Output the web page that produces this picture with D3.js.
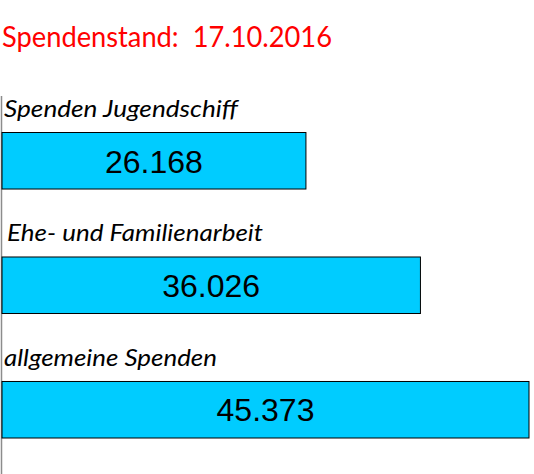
<!DOCTYPE html>
<html>
<head>
<meta charset="utf-8">
<script src="https://cdn.jsdelivr.net/npm/d3@7"></script>
<style>
  html, body { margin: 0; padding: 0; background: #fff; }
  svg { display: block; }
</style>
</head>
<body>
<svg id="chart" width="534" height="474"></svg>
<script>
var title = 'Spendenstand:\u00a0 17.10.2016';
var categories = ['Spenden Jugendschiff', 'Ehe- und Familienarbeit', 'allgemeine Spenden'];
var amounts = [26168, 36026, 45373];

var svg = d3.select('#chart');

// bars start at the axis line, 0..45373 spans 2..529
var x = d3.scaleLinear().domain([0, 45373]).range([2, 529]);
var y = d3.scaleBand().domain(categories).range([132, 438])
  .paddingInner(0.542).paddingOuter(0);

var fmt = d3.formatLocale({decimal: ',', thousands: '.', grouping: [3], currency: ['', '']}).format(',');

svg.append('text')
  .attr('x', 2)
  .attr('y', 47)
  .attr('fill', '#ff0000')
  .style('font-family', 'Lato, "Open Sans", sans-serif')
  .style('font-size', '29px')
  .attr('textLength', 330)
  .attr('lengthAdjust', 'spacingAndGlyphs')
  .text(title);

svg.append('line')
  .attr('x1', 1.5).attr('x2', 1.5)
  .attr('y1', 96).attr('y2', 474)
  .attr('stroke', '#8c8c8c')
  .attr('stroke-width', 1.5);

var rows = svg.selectAll('.row')
  .data(categories)
  .enter().append('g').classed('row', true);

rows.append('rect')
  .attr('x', x(0))
  .attr('y', function(d) { return y(d) + 0.5; })
  .attr('width', function(d, i) { return x(amounts[i]) - x(0); })
  .attr('height', y.bandwidth() - 0.5)
  .attr('fill', '#00ccff')
  .attr('stroke', '#000')
  .attr('stroke-width', 1);

var labelWidths = [234, 256, 213];

rows.append('text')
  .attr('x', function(d, i) { return i === 1 ? 7 : 4; })
  .attr('y', function(d) { return y(d) - 15; })
  .style('font-family', 'Lato, "Open Sans", sans-serif')
  .style('font-style', 'italic')
  .style('font-size', '23px')
  .attr('textLength', function(d, i) { return labelWidths[i]; })
  .attr('lengthAdjust', 'spacingAndGlyphs')
  .attr('fill', '#000')
  .text(function(d) { return d; });

rows.append('text')
  .attr('x', function(d, i) { return (x(0) + x(amounts[i])) / 2; })
  .attr('y', function(d) { return y(d) + y.bandwidth() / 2 + 12; })
  .attr('text-anchor', 'middle')
  .style('font-family', '"Liberation Sans", Arial, sans-serif')
  .style('font-size', '32px')
  .attr('fill', '#000')
  .text(function(d, i) { return fmt(amounts[i]); });
</script>
</body>
</html>
